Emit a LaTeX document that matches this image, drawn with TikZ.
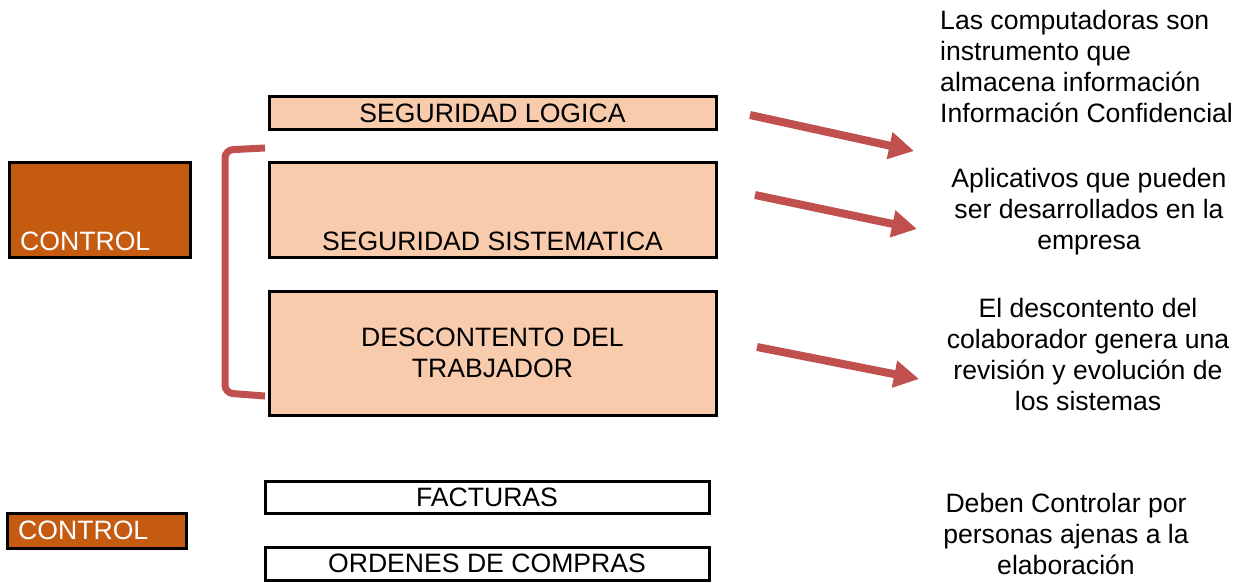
\documentclass[tikz,border=0pt]{standalone}
\usepackage{fontspec}
\setmainfont{Liberation Sans}
\usetikzlibrary{arrows.meta}
\definecolor{ctrlorange}{HTML}{C55A11}
\definecolor{peach}{HTML}{F8CBAD}
\definecolor{brickred}{HTML}{C0504D}

\begin{document}
\begin{tikzpicture}[x=1pt,y=-1pt,
        every node/.style={font=\fontsize{26.6}{31}\selectfont},
        ctrlbox/.style={draw,line width=3pt,fill=ctrlorange,inner sep=0pt},
        segbox/.style={draw,line width=3pt,fill=peach,minimum width=447pt,inner sep=0pt},
        docbox/.style={draw,line width=3pt,fill=white,minimum width=444pt,inner sep=0pt},
        bigarrow/.style={brickred,line width=8pt,-{Triangle[length=25pt,width=26pt]}}]
                \useasboundingbox (0,0) rectangle (1249,583);
                \node[ctrlbox,minimum width=181pt,minimum height=95pt] (ctrl1) at (99.5,209.5) {};
                \node[text=white,anchor=west,inner sep=0pt] (ctrl1txt) at (20,241) {CONTROL};
                \node[segbox,minimum height=32pt] (logica) at (492.5,113) {SEGURIDAD LOGICA};
                \node[segbox,minimum height=95pt] (sistema) at (492.5,209.5) {};
                \node[inner sep=0pt] (sistematxt) at (492.5,241) {SEGURIDAD SISTEMATICA};
                \node[segbox,minimum height=124pt,align=center] (descont) at (492.5,353) {DESCONTENTO DEL\\TRABJADOR};
                \node[docbox,minimum height=32pt] (facturas) at (487,497) {FACTURAS};
                \node[docbox,minimum height=33pt] (ordenes) at (487,563.5) {ORDENES DE COMPRAS};
                \node[ctrlbox,minimum width=179pt,minimum height=35pt] (ctrl2) at (96.5,530.5) {};
                \node[text=white,anchor=west,inner sep=0pt] (ctrl2txt) at (18,530.5) {CONTROL};
                % textos de la derecha
                \node[align=left,anchor=west,inner sep=0pt] (compu) at (940,66.5) {Las computadoras son\\instrumento que\\almacena información\\Información Confidencial};
                \node[align=center,inner sep=0pt] (aplic) at (1089,212) {Aplicativos que pueden\\ser desarrollados en la\\empresa};
                \node[align=center,inner sep=0pt] (colab) at (1088,354) {El descontento del\\colaborador genera una\\revisión y evolución de\\los sistemas};
                \node[align=center,inner sep=0pt] (ajenas) at (1066,534) {Deben Controlar por\\personas ajenas a la\\elaboración};
                % corchete
                \coordinate (brtop) at (265,148);
                \coordinate (brbot) at (265,396);
                \draw[brickred,line width=7pt,rounded corners=8pt] (brtop) -- (225,150) -- (225,393) -- (brbot);
                % flechas
                \coordinate (a1s) at (750,115);
                \coordinate (a1e) at (914,151);
                \coordinate (a2s) at (755,195);
                \coordinate (a2e) at (917,229);
                \coordinate (a3s) at (757,347);
                \coordinate (a3e) at (919,379);
                \draw[bigarrow] (a1s) -- (a1e);
                \draw[bigarrow] (a2s) -- (a2e);
                \draw[bigarrow] (a3s) -- (a3e);
            \end{tikzpicture}
\end{document}
